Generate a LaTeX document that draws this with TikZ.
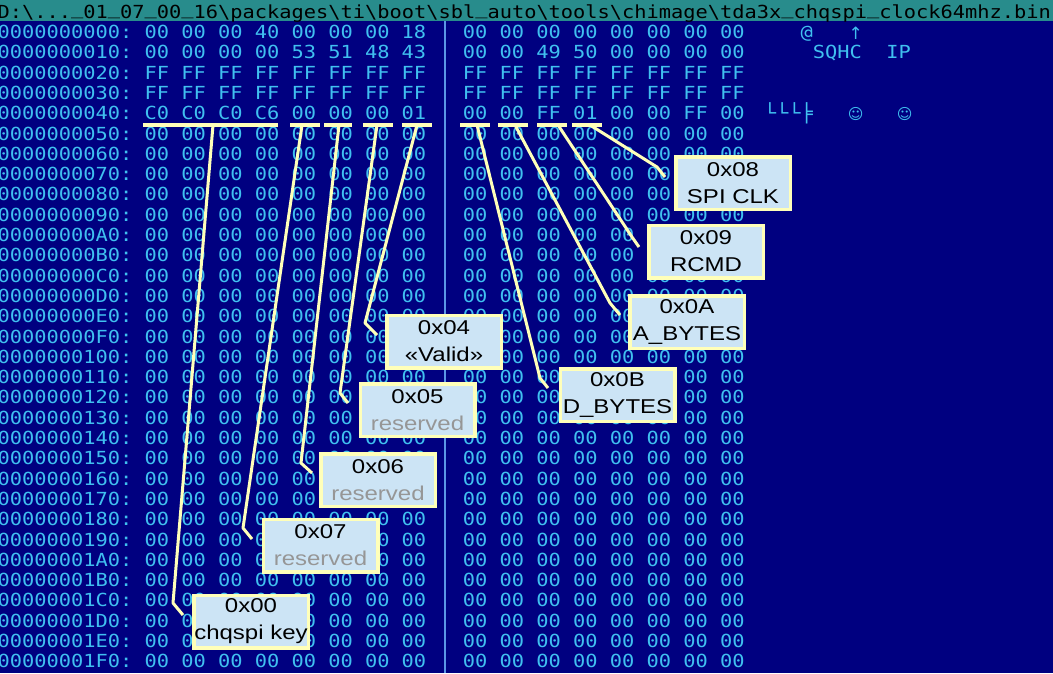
\documentclass[tikz,border=0pt]{standalone}
\usepackage{fontspec}
\newfontfamily\hexfont[FakeStretch=1.13]{DejaVu Sans Mono}
\newfontfamily\symfont{DejaVu Sans}
\newfontfamily\boxfont[FakeStretch=1.2]{Liberation Sans}
\definecolor{navybg}{RGB}{0,0,128}
\definecolor{titlebg}{RGB}{40,140,140}
\definecolor{hexc}{RGB}{64,192,240}
\definecolor{sepc}{RGB}{90,150,230}
\definecolor{yell}{RGB}{255,255,185}
\definecolor{boxfill}{RGB}{204,228,245}
\definecolor{resgray}{RGB}{150,150,150}
\newcommand{\tus}{\raisebox{3.6pt}{\_}}
\newcommand{\tbs}{\textbackslash}
\begin{document}
\begin{tikzpicture}[x=1pt,y=-1pt,
  hexrow/.style={anchor=base west,inner sep=0pt,text=hexc,font=\hexfont\fontsize{18}{20}\selectfont},
  asc/.style={anchor=base,inner sep=0pt,text=hexc,font=\hexfont\fontsize{18}{20}\selectfont},
  ubar/.style={draw=yell,line width=4pt},
  leader/.style={draw=yell,line width=3pt,line join=round},
  lbl/.style={draw=yell,line width=3.5pt,fill=boxfill,minimum width=114.5pt,minimum height=52.5pt,inner sep=0pt,align=center,text=black,font=\boxfont\fontsize{20}{27}\selectfont}]
\useasboundingbox (0,0) rectangle (1053,673);
\fill[navybg] (0,0) rectangle (1053,673);
\fill[titlebg] (0,0) rectangle (1053,21);
\node[anchor=base west,inner sep=0pt,text=black,font=\hexfont\fontsize{18}{20}\selectfont] (title) at (-2.5,18)
  {D:\tbs...\tus01\tus07\tus00\tus16\tbs packages\tbs ti\tbs boot\tbs sbl\tus auto\tbs tools\tbs chimage\tbs tda3x\tus chqspi\tus clock64mhz.bin};
\draw[sepc,line width=1.2pt] (445,21) -- (445,673);
% addresses
\foreach \ad [count=\i from 0] in {0000000000,0000000010,0000000020,0000000030,0000000040,0000000050,0000000060,0000000070,0000000080,0000000090,00000000A0,00000000B0,00000000C0,00000000D0,00000000E0,00000000F0,0000000100,0000000110,0000000120,0000000130,0000000140,0000000150,0000000160,0000000170,0000000180,0000000190,00000001A0,00000001B0,00000001C0,00000001D0,00000001E0,00000001F0}
  {\node[hexrow] (ad\i) at (-2.5,{38.5+20.3*\i}) {\ad:};}
% hex bytes
\node[hexrow] (lh0) at (144.4,38.5) {00 00 00 40 00 00 00 18};
\node[hexrow] (rh0) at (462.7,38.5) {00 00 00 00 00 00 00 00};
\node[hexrow] (lh1) at (144.4,58.8) {00 00 00 00 53 51 48 43};
\node[hexrow] (rh1) at (462.7,58.8) {00 00 49 50 00 00 00 00};
\node[hexrow] (lh2) at (144.4,79.1) {FF FF FF FF FF FF FF FF};
\node[hexrow] (rh2) at (462.7,79.1) {FF FF FF FF FF FF FF FF};
\node[hexrow] (lh3) at (144.4,99.4) {FF FF FF FF FF FF FF FF};
\node[hexrow] (rh3) at (462.7,99.4) {FF FF FF FF FF FF FF FF};
\node[hexrow] (lh4) at (144.4,119.7) {C0 C0 C0 C6 00 00 00 01};
\node[hexrow] (rh4) at (462.7,119.7) {00 00 FF 01 00 00 FF 00};
\foreach \i in {5,...,31}{
  \node[hexrow] (lh\i) at (144.4,{38.5+20.3*\i}) {00 00 00 00 00 00 00 00};
  \node[hexrow] (rh\i) at (462.7,{38.5+20.3*\i}) {00 00 00 00 00 00 00 00};
}
% ascii column
\foreach \k/\r/\ch [count=\n] in {3/0/@,4/1/S,5/1/Q,6/1/H,7/1/C,10/1/I,11/1/P,0/4/└,1/4/└,2/4/└,3/4/╞}
  {\node[asc] (as\n) at ({770.1+12.24*\k},{38.5+20.3*\r}) {\ch};}
\node[asc,font=\symfont\fontsize{17}{18}\selectfont] (arr) at ({770.1+12.24*7},39.5) {↑};
\node[asc,font=\symfont\fontsize{15}{18}\selectfont] (sm1) at ({770.1+12.24*7},119.7) {☺};
\node[asc,font=\symfont\fontsize{15}{18}\selectfont] (sm2) at ({770.1+12.24*11},119.7) {☺};
% underlines
\coordinate (u0a) at (143,125); \coordinate (u0b) at (278,125);
\coordinate (u1a) at (290,125); \coordinate (u1b) at (320,125);
\coordinate (u2a) at (324,125); \coordinate (u2b) at (352,125);
\coordinate (u3a) at (363,125); \coordinate (u3b) at (393,125);
\coordinate (u4a) at (402,125); \coordinate (u4b) at (432,125);
\coordinate (u5a) at (460,125); \coordinate (u5b) at (490,125);
\coordinate (u6a) at (498,125); \coordinate (u6b) at (528,125);
\coordinate (u7a) at (537,125); \coordinate (u7b) at (567,125);
\coordinate (u8a) at (572,125); \coordinate (u8b) at (602,125);
\foreach \j in {0,...,8}{\draw[ubar] (u\j a) -- (u\j b);}
% leader points
\coordinate (s00) at (213,125); \coordinate (k00) at (173,603); \coordinate (e00) at (183,615);
\coordinate (s07) at (302,125); \coordinate (k07) at (243,528); \coordinate (e07) at (252,539);
\coordinate (s06) at (339,125); \coordinate (k06) at (301,463); \coordinate (e06) at (312,473);
\coordinate (s05) at (377,125); \coordinate (k05) at (340,393); \coordinate (e05) at (348,403);
\coordinate (s04) at (417,125); \coordinate (k04) at (365,323); \coordinate (e04) at (377,335);
\coordinate (s0B) at (477,125); \coordinate (k0B) at (540,378); \coordinate (e0B) at (548,388);
\coordinate (s0A) at (515,125); \coordinate (k0A) at (610,303); \coordinate (e0A) at (620,315);
\coordinate (s09) at (558,125); \coordinate (k09) at (632,237); \coordinate (e09) at (639,247);
\coordinate (s08) at (590,125); \coordinate (k08) at (657,167); \coordinate (e08) at (665,177);
\foreach \t in {00,07,06,05,04,0B,0A,09,08}{\draw[leader] (s\t) -- (k\t) -- (e\t);}
% labels
\node[lbl] (b08) at (733,183) {0x08\\SPI CLK};
\node[lbl] (b09) at (706,251.5) {0x09\\RCMD};
\node[lbl] (b0A) at (687,322) {0x0A\\A\_BYTES};
\node[lbl] (b0B) at (617.5,395) {0x0B\\D\_BYTES};
\node[lbl] (b04) at (444,341.5) {0x04\\«Valid»};
\node[lbl] (b05) at (417.5,410) {0x05\\\textcolor{resgray}{reserved}};
\node[lbl] (b06) at (378,480) {0x06\\\textcolor{resgray}{reserved}};
\node[lbl] (b07) at (320.5,545.5) {0x07\\\textcolor{resgray}{reserved}};
\node[lbl] (b00) at (251,621.5) {0x00\\chqspi key};
\end{tikzpicture}
\end{document}
